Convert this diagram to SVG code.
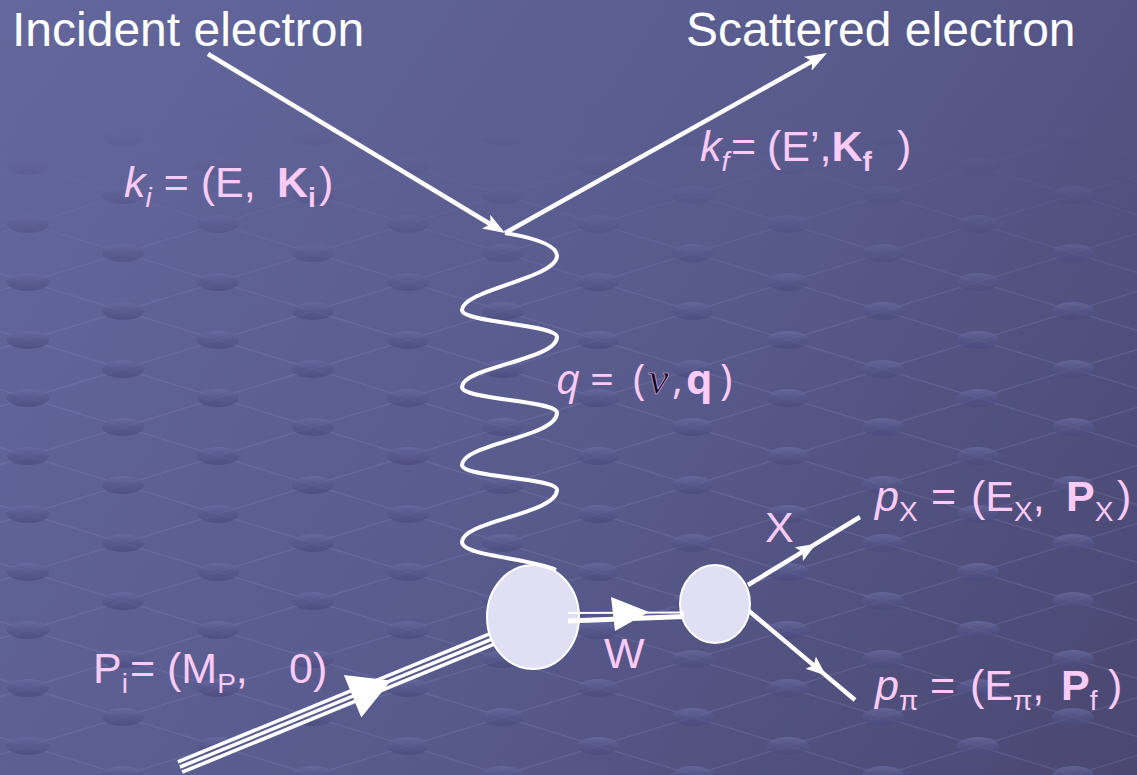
<svg xmlns="http://www.w3.org/2000/svg" width="1137" height="775" viewBox="0 0 1137 775">
<defs>
  <style>
    .sans{font-family:"Liberation Sans",Arial,sans-serif}
    .title{fill:#ffffff;font-size:48px}
    .lbl{fill:#FACBF7;font-size:43px}
    .it{font-style:italic}
    .b{font-weight:bold}
    .sub{font-size:28px}
    .ln{fill:none;stroke:#ffffff;stroke-linecap:butt}
    .node{fill:#E1DFF4;stroke:#ffffff;stroke-width:2}
  </style>
  <linearGradient id="bg" gradientUnits="userSpaceOnUse" x1="0" y1="0" x2="1137" y2="775">
    <stop offset="0" stop-color="#64679C"/>
    <stop offset="0.55" stop-color="#585A8C"/>
    <stop offset="1" stop-color="#4A4771"/>
  </linearGradient>
  <linearGradient id="ov" x1="0" y1="0" x2="0" y2="1">
    <stop offset="0" stop-color="#6C6EA5"/>
    <stop offset="0.45" stop-color="#56578B"/>
    <stop offset="1" stop-color="#48487B"/>
  </linearGradient>
  <linearGradient id="fadeg" gradientUnits="userSpaceOnUse" x1="0" y1="110" x2="0" y2="320">
    <stop offset="0" stop-color="#000"/>
    <stop offset="1" stop-color="#fff"/>
  </linearGradient>
  <mask id="fade"><rect width="1137" height="775" fill="url(#fadeg)"/></mask>
  <pattern id="grid" patternUnits="userSpaceOnUse" x="28" y="50" width="190" height="58">
    <path d="M0,0 L190,58 M0,58 L190,0" stroke="#9093CC" stroke-opacity="0.22" stroke-width="1.2" fill="none"/>
    <g fill="url(#ov)" opacity="0.7">
      <ellipse cx="0" cy="0" rx="21" ry="9"/>
      <ellipse cx="190" cy="0" rx="21" ry="9"/>
      <ellipse cx="0" cy="58" rx="21" ry="9"/>
      <ellipse cx="190" cy="58" rx="21" ry="9"/>
      <ellipse cx="95" cy="29" rx="21" ry="9"/>
    </g>
  </pattern>
  <marker id="ae" markerUnits="userSpaceOnUse" markerWidth="24" markerHeight="20" viewBox="0 0 24 20" refX="10" refY="10" orient="auto">
    <path d="M0,2 L22,10 L0,18 L5,10 Z" fill="#ffffff"/>
  </marker>
  <marker id="as" markerUnits="userSpaceOnUse" markerWidth="20" markerHeight="18" viewBox="0 0 20 18" refX="20" refY="9" orient="auto">
    <path d="M0,1 L20,9 L0,17 L4,9 Z" fill="#ffffff"/>
  </marker>
</defs>

<rect width="1137" height="775" fill="url(#bg)"/>
<rect width="1137" height="775" fill="url(#grid)" mask="url(#fade)"/>

<g id="nodes">
  <ellipse id="vertex1" class="node" cx="533" cy="617" rx="46" ry="52"/>
  <ellipse id="vertex2" class="node" cx="715" cy="604" rx="35" ry="39"/>
</g>

<g id="connectors">
  <path id="incident" class="ln" stroke-width="4.5" d="M208,54 L494.7,226.8" marker-end="url(#ae)"/>
  <path id="scattered" class="ln" stroke-width="4.5" d="M505,233 L816.5,58.9" marker-end="url(#ae)"/>
  <path id="photon" class="ln" stroke-width="4" stroke-linecap="round" d="M505,233 C535,238 557,245 557,256 C557,278 462,290 462,310 C462,323 557,324 557,337 C557,360 462,367 462,387 C462,400 557,400 557,413 C557,437 462,444 462,465 C462,478 557,477 557,490 C557,514 462,521 462,542 C462,556 530,558 556,570"/>
  <g id="proton" transform="translate(180,767) rotate(-22.3)">
    <path class="ln" stroke-width="3.6" d="M0,-5.6 L337,-5.6 M0,0 L337,0 M0,5.6 L338,5.6"/>
    <polygon points="186.5,-23 186.5,23 228,0" fill="#ffffff"/>
  </g>
  <g id="wboson">
    <path class="ln" stroke-width="2.2" d="M568,613 L684,612.5"/>
    <path class="ln" stroke-width="5" d="M568,621 L684,616.5"/>
    <polygon points="611,597 615,631 649,612" fill="#ffffff"/>
  </g>
  <path id="xline" class="ln" stroke-width="4.5" d="M748,585 L816,543.7 L860,517" marker-mid="url(#as)"/>
  <path id="piline" class="ln" stroke-width="4.5" d="M749,611 L826,675.6 L855,700" marker-mid="url(#as)"/>
</g>

<g id="labels" class="sans">
  <text class="title" x="12" y="46">Incident electron</text>
  <text class="title" x="686" y="46">Scattered electron</text>

  <text class="lbl" x="124" y="197"><tspan class="it">k</tspan><tspan class="it sub" dy="10">i</tspan><tspan dy="-10"> = (E, </tspan><tspan class="b" x="277">K</tspan><tspan class="b sub" dy="10">i</tspan><tspan dy="-10" x="319">)</tspan></text>

  <text class="lbl" x="700" y="161"><tspan class="it">k</tspan><tspan class="it sub" dy="10">f</tspan><tspan dy="-10" x="731">=</tspan><tspan x="767">(E’,</tspan><tspan class="b">K</tspan><tspan class="b sub" dy="10">f</tspan><tspan dy="-10" x="897">)</tspan></text>

  <text y="394" fill="#FACBF7" font-size="42" style="font-family:'Open Sans','Noto Sans',sans-serif"><tspan x="556" font-style="italic">q</tspan><tspan x="590">=</tspan><tspan x="633">(</tspan><tspan x="648" font-size="46" font-style="italic" fill="#0E0A1C" stroke="#F4C2F0" stroke-width="0.6" style="font-family:'Liberation Serif','Times New Roman',serif">ν</tspan><tspan x="672">,</tspan><tspan x="686" font-weight="bold">q</tspan><tspan x="720">)</tspan></text>

  <text class="lbl" x="875" y="511"><tspan class="it">p</tspan><tspan class="sub" dy="10">X</tspan><tspan dy="-10" x="931">=</tspan><tspan x="971">(E</tspan><tspan class="sub" dy="10">X</tspan><tspan dy="-10">,</tspan><tspan class="b" x="1066">P</tspan><tspan class="sub" dy="10">X</tspan><tspan dy="-10" x="1117">)</tspan></text>

  <text class="lbl" x="875" y="700"><tspan class="it">p</tspan><tspan class="sub" dy="10">π</tspan><tspan dy="-10" x="930">=</tspan><tspan x="970">(E</tspan><tspan class="sub" dy="10">π</tspan><tspan dy="-10">,</tspan><tspan x="1061" class="b">P</tspan><tspan class="sub" dy="10">f</tspan><tspan dy="-10" x="1108">)</tspan></text>

  <text class="lbl" x="93" y="683"><tspan>P</tspan><tspan class="sub" dy="10">i</tspan><tspan dy="-10" x="130">=</tspan><tspan x="167">(M</tspan><tspan class="sub" dy="10">P</tspan><tspan dy="-10">,</tspan><tspan x="289">0)</tspan></text>

  <text class="lbl" x="604" y="668" font-size="45">W</text>
  <text class="lbl" x="765" y="542" font-size="45">X</text>
</g>
</svg>
